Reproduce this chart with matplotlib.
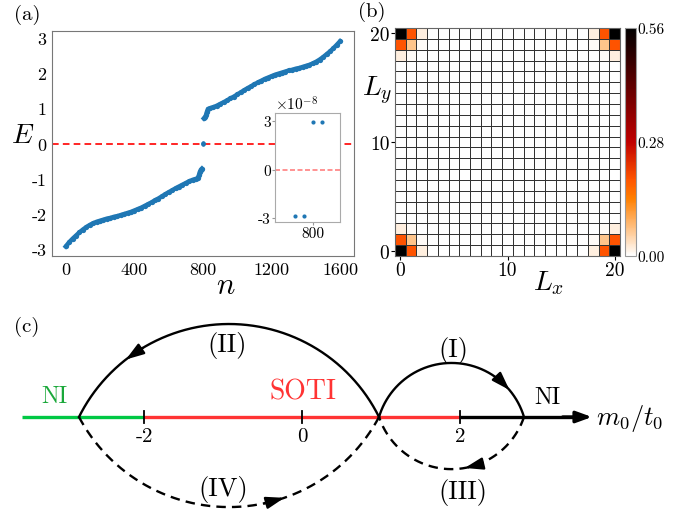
import numpy as np
import matplotlib.pyplot as plt

plt.rcParams['font.family'] = 'cmr10'
plt.rcParams['mathtext.fontset'] = 'cm'
plt.rcParams['axes.unicode_minus'] = False
plt.rcParams['axes.formatter.use_mathtext'] = True

# ---- (a) spectrum ----
n_lower = [0, 20, 40, 60, 80, 100, 120, 140, 160, 180, 200, 220, 240, 260, 280,
           300, 320, 340, 360, 380, 400, 420, 440, 460, 480, 500, 520, 540, 560,
           580, 600, 620, 640, 660, 680, 700, 720, 740, 760, 770, 776, 782, 788, 794]
E_lower = [-2.92, -2.80, -2.70, -2.61, -2.52, -2.44, -2.37, -2.31, -2.26, -2.22,
           -2.19, -2.16, -2.13, -2.11, -2.08, -2.06, -2.03, -2.00, -1.97, -1.94,
           -1.90, -1.86, -1.82, -1.77, -1.72, -1.67, -1.61, -1.56, -1.50, -1.44,
           -1.38, -1.33, -1.27, -1.22, -1.17, -1.12, -1.07, -1.03, -1.00, -0.98,
           -0.90, -0.80, -0.74, -0.71]
n_upper = [805, 811, 817, 823, 829, 840, 860, 880, 900, 920, 940, 960, 980, 1000,
           1020, 1040, 1060, 1080, 1100, 1120, 1140, 1160, 1180, 1200, 1220, 1240,
           1260, 1280, 1300, 1320, 1340, 1360, 1380, 1400, 1420, 1440, 1460, 1480,
           1500, 1520, 1540, 1560, 1580, 1599]
E_upper = [0.71, 0.74, 0.80, 0.90, 0.98, 1.00, 1.03, 1.07, 1.12, 1.17, 1.22, 1.28,
           1.33, 1.39, 1.45, 1.51, 1.57, 1.62, 1.68, 1.73, 1.78, 1.83, 1.87, 1.91,
           1.95, 1.98, 2.01, 2.04, 2.07, 2.09, 2.12, 2.14, 2.17, 2.20, 2.23, 2.27,
           2.32, 2.38, 2.45, 2.53, 2.61, 2.70, 2.80, 2.90]
n_zero = [798, 799, 800, 801]
E_zero = [-2.9e-8, -2.9e-8, 2.95e-8, 2.95e-8]

# ---- (b) corner-state density (3x3 block at each corner) ----
corner_block = [[0.56, 0.19, 0.018],
                [0.19, 0.065, 0.006],
                [0.018, 0.006, 0.001]]
L = 21

# ---- (c) phase diagram ----
c_ticks = [-2, 0, 2]
c_ticklabels = ['-2', '0', '2']

W, H = 678.0, 510.0


def box(l, t, r, b):
    return [l / W, 1 - b / H, (r - l) / W, (b - t) / H]


fig = plt.figure(figsize=(6.78, 5.10), dpi=100)
blue = '#1f77b4'

# panel (a)
ax = fig.add_axes(box(52, 32, 354, 257))
ax.axhline(0, color='red', ls=(0, (4, 2.5)), lw=1.2, zorder=1)
ax.plot(n_lower, E_lower, '-o', color=blue, lw=3.2, ms=3.8, mec='none', zorder=2)
ax.plot(n_upper, E_upper, '-o', color=blue, lw=3.2, ms=3.8, mec='none', zorder=2)
ax.plot(n_zero, E_zero, 'o', color=blue, ms=3.0, mec='none', zorder=2)
ax.set_xlim(-80, 1680)
ax.set_ylim(-3.19, 3.19)
ax.set_xticks([0, 400, 800, 1200, 1600], labels=['0', '400', '800', '1200', '1600'])
ax.set_yticks([-3, -2, -1, 0, 1, 2, 3], labels=['-3', '-2', '-1', '0', '1', '2', '3'])
ax.tick_params(length=0, pad=4, labelsize=13)
for s in ax.spines.values():
    s.set_color('#777777')
ax.text(-0.096, 0.54, '$E$', transform=ax.transAxes, fontsize=20,
        ha='center', va='center')
ax.text(0.576, -0.13, '$n$', transform=ax.transAxes, fontsize=22,
        ha='center', va='center')

# inset
axi = fig.add_axes(box(275, 114, 340, 223))
axi.axhline(0, color='#ff8080', ls=(0, (3, 1.5)), lw=1.2, zorder=1)
axi.plot(n_zero, E_zero, 'o', color=blue, ms=3.0, mec='none')
axi.set_xlim(795.9, 802.9)
axi.set_ylim(-3.25e-8, 3.5e-8)
axi.set_xticks([800], labels=['800'])
axi.set_yticks([-3e-8, 0, 3e-8], labels=['-3', '0', '3'])
axi.tick_params(length=2, pad=1, labelsize=11, color='#999999')
for s in axi.spines.values():
    s.set_color('#aaaaaa')
axi.text(0.0, 1.0, r'$\times10^{-8}$', transform=axi.transAxes, fontsize=11,
         ha='left', va='bottom')

# panel (b)
block = np.array(corner_block)
density = np.zeros((L, L))
density[:3, :3] = block
density[:3, -3:] = block[:, ::-1]
density[-3:, :3] = block[::-1, :]
density[-3:, -3:] = block[::-1, ::-1]

axb = fig.add_axes(box(395, 29, 620, 257))
edges = np.arange(L + 1) - 0.5
mesh = axb.pcolormesh(edges, edges, density, cmap='gist_heat_r', vmin=0, vmax=0.56,
                      edgecolors='#333333', linewidth=0.4)
axb.set_xlim(-0.5, 20.5)
axb.set_ylim(-0.5, 20.5)
axb.set_xticks([0, 10, 20], labels=['0', '10', '20'])
axb.set_yticks([0, 10, 20], labels=['0', '10', '20'])
axb.tick_params(length=3, pad=1, labelsize=14)
for s in axb.spines.values():
    s.set_color('#666666')
axb.text(-0.08, 0.73, '$L_y$', transform=axb.transAxes, fontsize=20,
         ha='center', va='center')
axb.text(0.684, -0.115, '$L_x$', transform=axb.transAxes, fontsize=20,
         ha='center', va='center')

cax = fig.add_axes(box(625, 29, 636, 257))
cb = fig.colorbar(mesh, cax=cax, ticks=[0, 0.28, 0.56])
cb.ax.set_yticklabels(['0.00', '0.28', '0.56'])
cb.ax.tick_params(length=0, pad=1, labelsize=11)
cb.outline.set_edgecolor('#999999')

# panel (c)
axc = fig.add_axes([0, 0, 1, 210 / H])
axc.set_xlim(-302 / 79, 376 / 79)
axc.set_ylim(-92 / 79, 118 / 79)
axc.axis('off')

green = '#00c844'
red = '#ff3333'
axc.plot([-3.55, -2], [0, 0], color=green, lw=2.4, solid_capstyle='butt', zorder=2)
axc.plot([-2, 2], [0, 0], color=red, lw=2.4, solid_capstyle='butt', zorder=2)
axc.plot([2, 3.45], [0, 0], color='k', lw=2.4, solid_capstyle='butt', zorder=2)
axc.annotate('', xy=(3.67, 0), xytext=(3.3, 0),
             arrowprops=dict(arrowstyle='-|>,head_length=0.55,head_width=0.2',
                             mutation_scale=17, lw=2.4, color='k',
                             shrinkA=0, shrinkB=0))
for t, lab in zip(c_ticks, c_ticklabels):
    axc.plot([t, t], [-0.08, 0.08], color='k', lw=1.3, zorder=3)
    axc.text(t, -0.24, lab, fontsize=15, ha='center', va='center')

x_left, x_cross, x_right = -2.823, 0.975, 2.81
dash = (0, (4, 2.6))


class Bow:
    """circular arc through (x1,0),(x2,0) bulging by h (negative = below)"""

    def __init__(self, x1, x2, h):
        self.xm = 0.5 * (x1 + x2)
        c = 0.5 * (x2 - x1)
        self.s = np.sign(h)
        h = abs(h)
        self.R = (c * c + h * h) / (2 * h)
        self.yc = h - self.R
        self.a0 = np.arcsin((self.R - h) / self.R)

    def xy(self, phi):
        return self.xm + self.R * np.cos(phi), self.s * (self.yc + self.R * np.sin(phi))

    def draw(self, **kw):
        phi = np.linspace(self.a0, np.pi - self.a0, 300)
        x, y = self.xy(phi)
        axc.plot(x, y, color='k', lw=1.7, **kw)

    def arrow(self, tip_deg, sign):
        t1 = np.deg2rad(tip_deg)
        t0 = t1 - sign * np.deg2rad(7)
        axc.annotate('', xy=self.xy(t1), xytext=self.xy(t0),
                     arrowprops=dict(arrowstyle='-|>,head_length=0.6,head_width=0.2',
                                     mutation_scale=18, lw=1.7, color='k',
                                     shrinkA=0, shrinkB=0), zorder=4)


bow2 = Bow(x_left, x_cross, 1.177)
bow1 = Bow(x_cross, x_right, 0.684)
bow3 = Bow(x_cross, x_right, -0.66)
bow4 = Bow(x_left, x_cross, -1.14)
bow2.draw(zorder=3)
bow1.draw(zorder=3)
bow3.draw(ls=dash)
bow4.draw(ls=dash)
bow2.arrow(128, +1)
bow1.arrow(40, -1)
bow3.arrow(80, +1)
bow4.arrow(71, -1)

axc.text(-0.95, 0.92, '(II)', fontsize=19, ha='center', va='center')
axc.text(1.92, 0.86, '(I)', fontsize=19, ha='center', va='center')
axc.text(2.04, -0.94, '(III)', fontsize=19, ha='center', va='center')
axc.text(-1.0, -0.91, '(IV)', fontsize=19, ha='center', va='center')
axc.text(0.01, 0.33, 'SOTI', fontsize=20, color=red, ha='center', va='center')
axc.text(-3.14, 0.27, 'NI', fontsize=17, color='#1aa83a', ha='center', va='center')
axc.text(3.11, 0.26, 'NI', fontsize=17, color='k', ha='center', va='center')
axc.text(3.72, -0.01, '$m_0/t_0$', fontsize=19, ha='left', va='center')

fig.text(27 / W, 1 - 15 / H, '(a)', fontsize=15, ha='center', va='center')
fig.text(372 / W, 1 - 12 / H, '(b)', fontsize=15, ha='center', va='center')
fig.text(27 / W, 1 - 327 / H, '(c)', fontsize=15, ha='center', va='center')

fig.savefig('out.png', dpi=100)
